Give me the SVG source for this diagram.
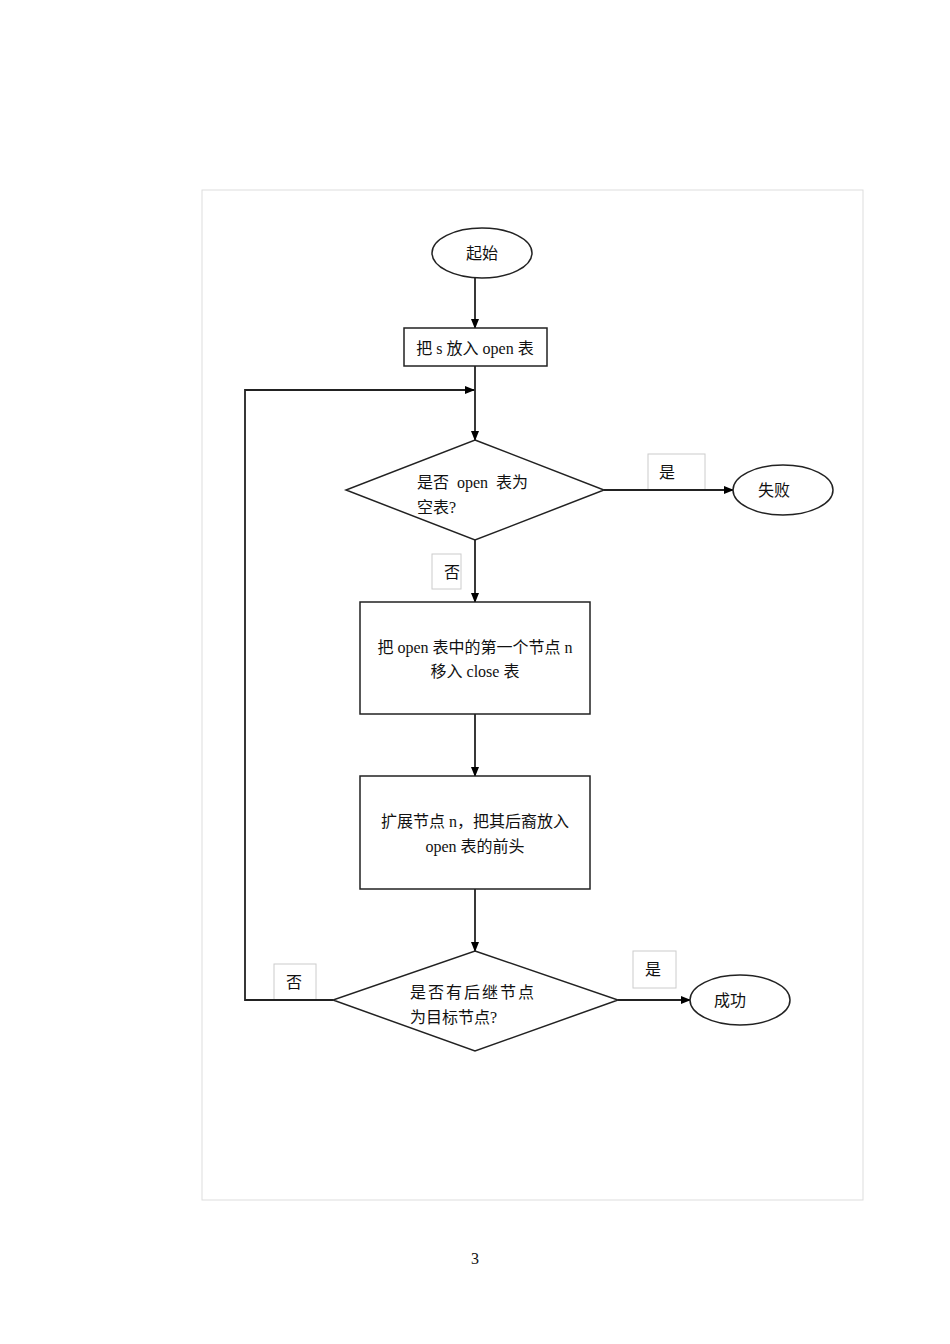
<svg xmlns="http://www.w3.org/2000/svg" width="950" height="1344" viewBox="0 0 950 1344">
<defs>
<marker id="ah" markerWidth="10" markerHeight="8" refX="9" refY="4" orient="auto" markerUnits="userSpaceOnUse"><path d="M0,0 L10,4 L0,8 z" fill="#000"/></marker>
<style>
.s{fill:#fff;stroke:#222;stroke-width:1.5}
.t{font-family:"Liberation Serif","Noto Sans CJK SC",serif;font-size:16px;fill:#111;white-space:pre}
.c{fill:none;stroke:#222;stroke-width:1.8}
.lb{fill:#fff;stroke:#ccc;stroke-width:1}
</style>
</defs>
<rect width="950" height="1344" fill="#fff"/>
<rect x="202" y="190" width="661" height="1010" fill="none" stroke="#ddd" stroke-width="1"/>
<g id="labels">
<rect class="lb" x="648" y="454" width="57" height="36"/><text class="t" x="659" y="478">是</text>
<rect class="lb" x="432" y="554" width="29" height="35"/><text class="t" x="444" y="578">否</text>
<rect class="lb" x="274" y="964" width="42" height="36"/><text class="t" x="286" y="988">否</text>
<rect class="lb" x="633" y="951" width="43" height="37"/><text class="t" x="645" y="975">是</text>
</g>
<g id="connectors">
<line class="c" x1="475" y1="278" x2="475" y2="328" marker-end="url(#ah)"/>
<line class="c" x1="475" y1="366" x2="475" y2="440" marker-end="url(#ah)"/>
<line class="c" x1="604" y1="490" x2="733" y2="490" marker-end="url(#ah)"/>
<line class="c" x1="475" y1="540" x2="475" y2="602" marker-end="url(#ah)"/>
<line class="c" x1="475" y1="714" x2="475" y2="776" marker-end="url(#ah)"/>
<line class="c" x1="475" y1="889" x2="475" y2="951" marker-end="url(#ah)"/>
<line class="c" x1="618" y1="1000" x2="690" y2="1000" marker-end="url(#ah)"/>
<polyline class="c" points="333,1000 245,1000 245,390 474,390" marker-end="url(#ah)"/>
</g>
<g id="start"><ellipse class="s" cx="482" cy="253" rx="50" ry="25"/><text class="t" x="482" y="259" text-anchor="middle">起始</text></g>
<g id="init"><rect class="s" x="404" y="328" width="143" height="38"/><text class="t" x="475" y="354" text-anchor="middle">把 s 放入 open 表</text></g>
<g id="d1"><polygon class="s" points="475,440 604,490 475,540 346,490"/><text class="t" x="417" y="488" xml:space="preserve">是否  open  表为</text><text class="t" x="417" y="513">空表?</text></g>
<g id="fail"><ellipse class="s" cx="783" cy="490" rx="50" ry="25"/><text class="t" x="774" y="496" text-anchor="middle">失败</text></g>
<g id="move"><rect class="s" x="360" y="602" width="230" height="112"/><text class="t" x="475" y="653" text-anchor="middle">把 open 表中的第一个节点 n</text><text class="t" x="475" y="677" text-anchor="middle">移入 close 表</text></g>
<g id="expand"><rect class="s" x="360" y="776" width="230" height="113"/><text class="t" x="475" y="827" text-anchor="middle">扩展节点 n，把其后裔放入</text><text class="t" x="475" y="852" text-anchor="middle">open 表的前头</text></g>
<g id="d2"><polygon class="s" points="475,951 618,1000 475,1051 333,1000"/><text class="t" x="410" y="998" letter-spacing="2">是否有后继节点</text><text class="t" x="410" y="1023">为目标节点?</text></g>
<g id="succ"><ellipse class="s" cx="740" cy="1000" rx="50" ry="25"/><text class="t" x="730" y="1006" text-anchor="middle">成功</text></g>
<text class="t" x="475" y="1264" text-anchor="middle" font-size="14">3</text>
</svg>
